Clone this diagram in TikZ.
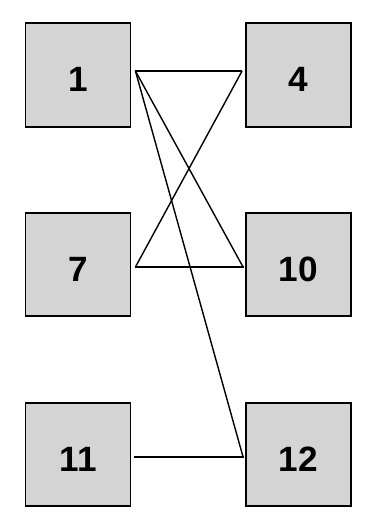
\documentclass[tikz,border=0pt]{standalone}
\usepackage{fontspec}
\setsansfont{Liberation Sans}
\usepackage{tikz}
\definecolor{boxGray}{HTML}{D4D4D4}

\tikzset{
  numbox/.style={draw=black, line width=1.6pt, fill=boxGray, inner sep=0pt,
    minimum width=3.15cm, minimum height=3.1cm,
    text height=1cm, text depth=0pt,
    font=\sffamily\bfseries\fontsize{30}{34}\selectfont},
  link/.style={draw=black, line width=1.2pt}
}

\begin{document}
\begin{tikzpicture}[x=0.03cm, y=-0.03cm]
  \useasboundingbox (0,0) rectangle (368,522);
  % left column
  \node[numbox] (n1)  at (78, 75)    {1};
  \node[numbox] (n7)  at (78, 264.5) {7};
  \node[numbox] (n11) at (78, 454.5) {11};
  % right column
  \node[numbox] (n4)  at (298.5, 75)    {4};
  \node[numbox] (n10) at (298.5, 264.5) {10};
  \node[numbox] (n12) at (298.5, 454.5) {12};
  % links
  \draw[link] ([xshift=0.12cm, yshift=0.12cm]n1.east) -- ([xshift=-0.09cm, yshift=0.12cm]n4.west);
  \draw[link] ([xshift=0.12cm, yshift=0.12cm]n1.east) -- ([xshift=-0.06cm, yshift=-0.075cm]n10.west);
  \draw[link] ([xshift=0.12cm, yshift=0.12cm]n1.east) -- ([xshift=-0.06cm, yshift=-0.075cm]n12.west);
  \draw[link] ([xshift=0.12cm, yshift=-0.075cm]n7.east) -- ([xshift=-0.09cm, yshift=0.12cm]n4.west);
  \draw[link] ([xshift=0.12cm, yshift=-0.075cm]n7.east) -- ([xshift=-0.03cm, yshift=-0.075cm]n10.west);
  \draw[link] ([xshift=0.09cm, yshift=-0.075cm]n11.east) -- ([xshift=-0.03cm, yshift=-0.075cm]n12.west);
\end{tikzpicture}
\end{document}
